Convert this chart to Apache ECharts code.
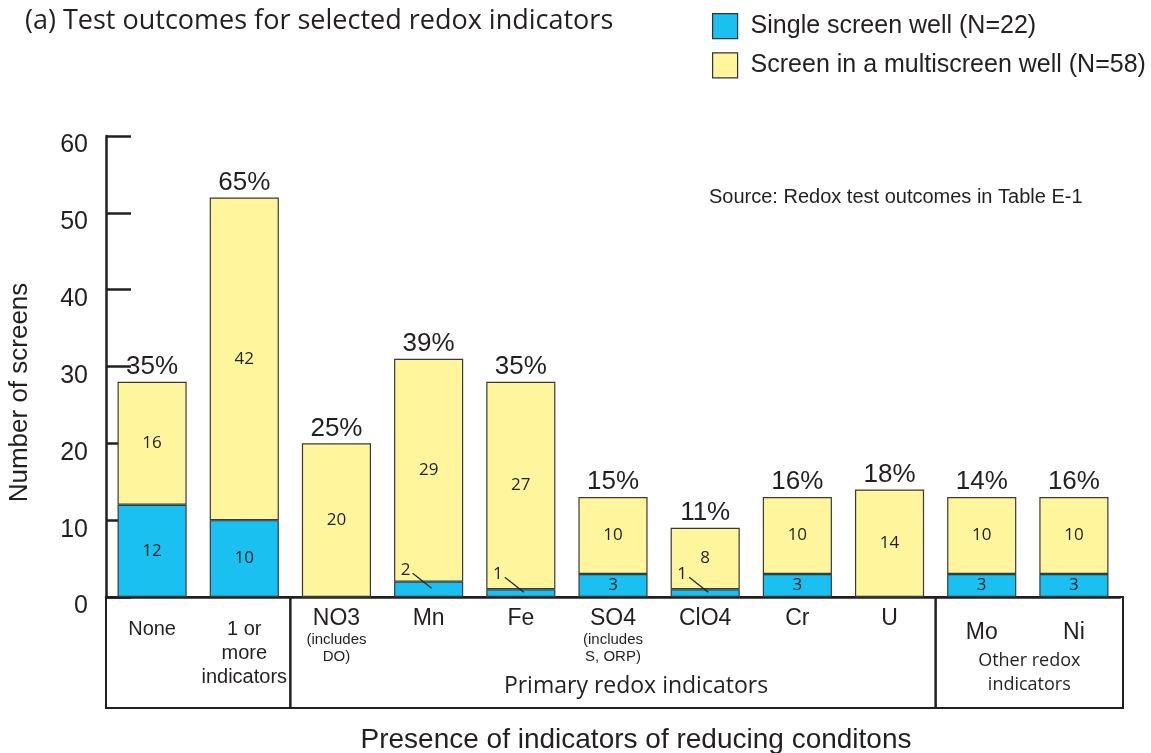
<!DOCTYPE html>
<html>
<head>
<meta charset="utf-8">
<script src="https://cdn.jsdelivr.net/npm/echarts@6/dist/echarts.min.js"></script>
<style>
html, body { margin: 0; padding: 0; background: #fff; }
#chart { width: 1151px; height: 753px; }
</style>
</head>
<body>
<div id="chart"></div>
<script>
// categories (line breaks are part of the printed label)
const categories = ['None', '1 or\nmore\nindicators', 'NO3', 'Mn', 'Fe', 'SO4', 'ClO4', 'Cr', 'U', 'Mo', 'Ni'];
const subLabels = ['', '', '(includes\nDO)', '', '', '(includes\nS, ORP)', '', '', '', '', ''];
const singleWell = [12, 10, 0, 2, 1, 3, 1, 3, 0, 3, 3];
const multiWell = [16, 42, 20, 29, 27, 10, 8, 10, 14, 10, 10];
const percents = ['35%', '65%', '25%', '39%', '35%', '15%', '11%', '16%', '18%', '14%', '16%'];
const groups = [
    { name: '', from: 0, to: 1 },
    { name: 'Primary redox indicators', from: 2, to: 8 },
    { name: 'Other redox\nindicators', from: 9, to: 10 }
];
const seriesNames = ['Single screen well (N=22)', 'Screen in a multiscreen well (N=58)'];

const ink = '#231f20';
const sans = 'Liberation Sans';
const myriad = 'Open Sans';

const chart = echarts.init(document.getElementById('chart'));

const groupOf = i => groups.findIndex(g => i >= g.from && i <= g.to);
const isTiny = v => v > 0 && v < 3;

const option = {
    animation: false,
    title: [
        {
            text: '(a) Test outcomes for selected redox indicators',
            left: 20, top: 3,
            textStyle: { fontFamily: myriad, fontSize: 27, fontWeight: 'normal', color: ink }
        },
        {
            text: 'Source: Redox test outcomes in Table E-1',
            left: 704, top: 182,
            textStyle: { fontFamily: sans, fontSize: 20, fontWeight: 'normal', color: ink }
        }
    ],
    legend: {
        data: seriesNames,
        orient: 'vertical',
        left: 707, top: 8,
        itemWidth: 25, itemHeight: 25, itemGap: 13,
        icon: 'rect',
        itemStyle: { borderColor: '#333', borderWidth: 1.2 },
        textStyle: { fontFamily: sans, fontSize: 25, color: ink, padding: [0, 0, 0, 8] }
    },
    grid: { left: 106, right: 31, top: 136, bottom: 156, outerBoundsMode: 'none' },
    xAxis: {
        type: 'category',
        data: categories,
        name: 'Presence of indicators of reducing conditons',
        nameLocation: 'middle',
        nameGap: 129,
        nameTextStyle: { fontFamily: sans, fontSize: 28, color: ink, padding: [0, 0, 0, 46] },
        axisLine: { lineStyle: { color: ink, width: 2.5 } },
        axisTick: { inside: true, length: 7, lineStyle: { color: ink, width: 2 } },
        axisLabel: {
            interval: 0,
            margin: 10,
            color: ink,
            formatter: (val, i) => {
                const g = groupOf(i);
                const lines = val.split('\n');
                if (g === 0) {
                    return '{gap0| }\n' + lines.map(l => '{mid|' + l + '}').join('\n');
                }
                if (g === 2) {
                    return '{gap2| }\n{big|' + val + '}';
                }
                let s = '{big|' + val + '}';
                if (subLabels[i]) {
                    s += '\n' + subLabels[i].split('\n').map(l => '{sub|' + l + '}').join('\n');
                }
                return s;
            },
            rich: {
                gap0: { fontSize: 2, lineHeight: 10 },
                gap2: { fontSize: 2, lineHeight: 14 },
                mid: { fontFamily: sans, fontSize: 20, lineHeight: 24, color: ink },
                big: { fontFamily: sans, fontSize: 23, lineHeight: 24, color: ink },
                sub: { fontFamily: sans, fontSize: 15, lineHeight: 17, color: ink }
            }
        },
        splitLine: { show: false }
    },
    yAxis: {
        type: 'value',
        min: 0, max: 60, interval: 10,
        name: 'Number of screens',
        nameLocation: 'middle',
        nameGap: 73,
        nameTextStyle: { fontFamily: sans, fontSize: 26, color: ink, padding: [0, 52, 0, 0] },
        axisLine: { show: true, lineStyle: { color: ink, width: 2.5 } },
        axisTick: { show: true, inside: true, length: 25, lineStyle: { color: ink, width: 2.5 } },
        axisLabel: {
            margin: 18, fontFamily: sans, fontSize: 25, color: ink,
            verticalAlign: 'top', lineHeight: 19
        },
        splitLine: { show: false }
    },
    series: [
        {
            name: seriesNames[0],
            type: 'bar',
            stack: 'screens',
            barCategoryGap: '25%',
            itemStyle: { color: '#19c0f0', borderColor: '#3a3a3a', borderWidth: 1.2 },
            label: {
                show: true,
                position: 'inside',
                fontFamily: myriad, fontSize: 17, color: ink,
                formatter: p => (p.value ? String(p.value) : '')
            },
            labelLayout: p => isTiny(singleWell[p.dataIndex]) ? { dx: -23, dy: -19 } : {},
            data: singleWell
        },
        {
            name: seriesNames[1],
            type: 'bar',
            stack: 'screens',
            itemStyle: { color: '#fff59d', borderColor: '#3a3a3a', borderWidth: 1.2 },
            label: {
                show: true,
                position: 'inside',
                fontFamily: myriad, fontSize: 17, color: ink
            },
            data: multiWell
        },
        {
            name: 'percent',
            type: 'bar',
            stack: 'screens',
            silent: true,
            itemStyle: { color: 'rgba(0,0,0,0)', borderWidth: 0 },
            label: {
                show: true,
                position: 'top',
                distance: 2,
                fontFamily: sans, fontSize: 26, color: ink,
                formatter: p => percents[p.dataIndex]
            },
            data: categories.map(() => 0)
        }
    ]
};

chart.setOption(option);

// group boxes under the category axis and leader lines for the thin segments,
// all positioned from the axis scales
function drawAnnotations() {
    const cx = i => chart.convertToPixel({ xAxisIndex: 0 }, i);
    const band = cx(1) - cx(0);
    const y0 = chart.convertToPixel({ yAxisIndex: 0 }, 0);
    const elements = [];
    groups.forEach((g, k) => {
        const left = cx(g.from) - band / 2;
        let right = cx(g.to) + band / 2;
        if (k === groups.length - 1) right += 3;
        elements.push({
            type: 'rect',
            shape: { x: left, y: y0, width: right - left, height: 111 },
            style: { fill: 'none', stroke: ink, lineWidth: 2 },
            silent: true
        });
        if (g.name) {
            const twoLines = g.name.indexOf('\n') >= 0;
            elements.push({
                type: 'text',
                x: (left + right) / 2 + (twoLines ? 0 : 23),
                y: y0 + (twoLines ? 76 : 89),
                style: {
                    text: g.name,
                    fontFamily: myriad,
                    fontSize: twoLines ? 18 : 23,
                    lineHeight: 24,
                    fill: ink,
                    align: 'center',
                    verticalAlign: 'middle'
                },
                silent: true
            });
        }
    });
    singleWell.forEach((v, i) => {
        if (!isTiny(v)) return;
        const p = chart.convertToPixel({ xAxisIndex: 0, yAxisIndex: 0 }, [i, v / 2]);
        elements.push({
            type: 'line',
            z: 100,
            shape: { x1: p[0] - 16, y1: p[1] - 16, x2: p[0] + 3, y2: p[1] - 1 },
            style: { stroke: ink, lineWidth: 1.2 },
            silent: true
        });
    });
    chart.setOption({ graphic: elements });
}
drawAnnotations();

window.addEventListener('resize', () => {
    chart.resize();
    drawAnnotations();
});
</script>
</body>
</html>
